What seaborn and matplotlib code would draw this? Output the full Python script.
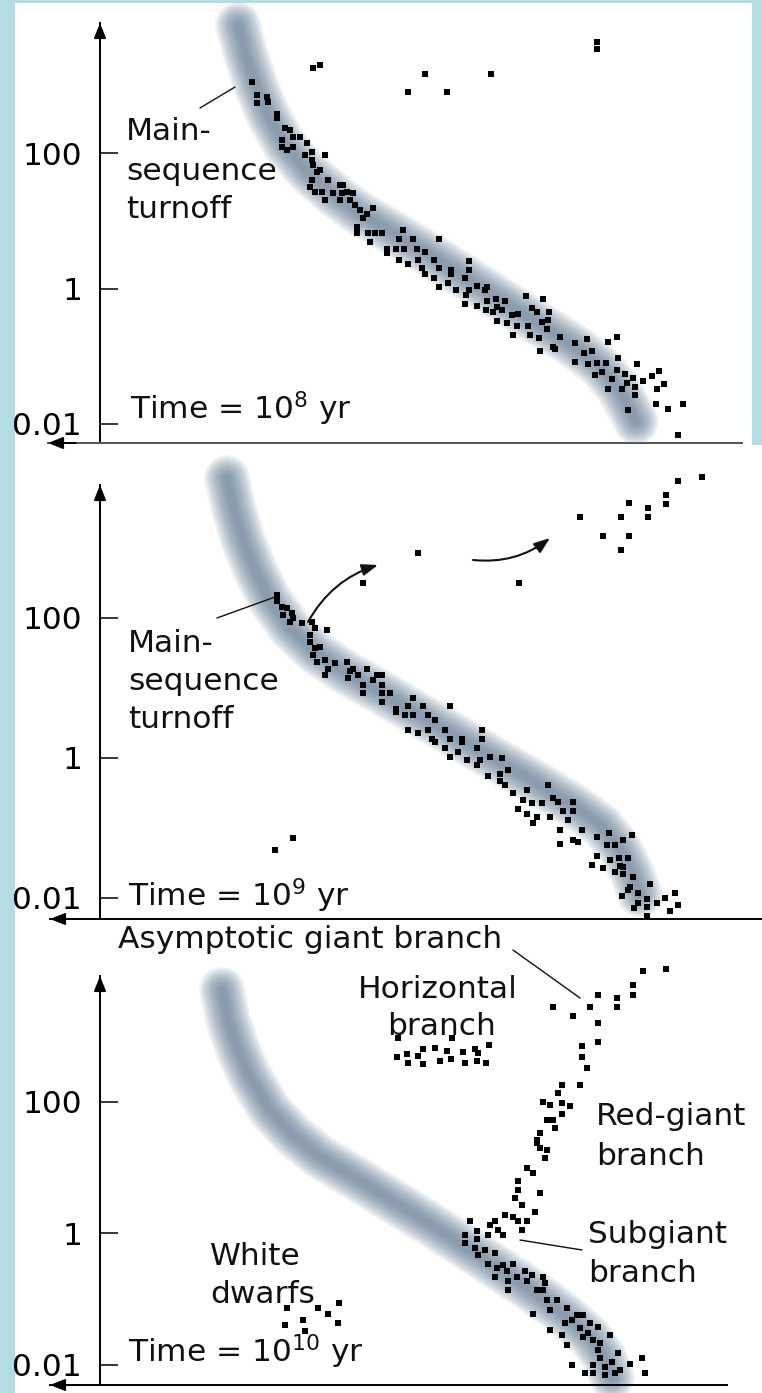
import numpy as np
import matplotlib
matplotlib.use("Agg")
import matplotlib.pyplot as plt
import seaborn as sns
import pandas as pd
from matplotlib.patches import Rectangle, FancyArrowPatch
from matplotlib.lines import Line2D
from matplotlib.ticker import NullLocator

# ---------------- data (x = relative temperature index, logL = log10 luminosity) -------------
tick_values = [0.01, 1, 100]
tick_labels = ["0.01", "1", "100"]

# Panel 1: 10^8 yr
p1_band_x = [138, 146, 156, 168, 185, 208, 235, 258, 280, 330, 380, 430, 475, 500, 518, 530, 536]
p1_band_logL = [3.90, 3.45, 3.00, 2.57, 2.12, 1.72, 1.38, 1.13, 0.94, 0.50, 0.03, -0.44, -0.86, -1.15, -1.47, -1.79, -1.97]
p1_x = [152, 157, 157, 167, 168, 177, 177, 185, 190, 193, 200, 182, 182, 187, 193, 207, 212, 205, 212, 225,
        213, 217, 220, 228, 212, 210, 215, 222, 225, 233, 240, 243, 242, 247, 240, 250, 253, 255, 260, 267,
        263, 273, 257, 257, 268, 270, 275,
        282, 287, 287, 296, 299, 303, 304, 313, 317, 299, 308, 318, 322, 325, 325, 334, 339, 334, 339, 339,
        348, 351, 351, 356, 365, 369, 369, 366, 369, 365, 377, 377, 385, 387, 387, 386, 396, 397, 393, 402,
        405, 397, 407, 412, 413, 418, 417, 426, 432, 437, 443, 449, 442, 448, 428, 430, 439, 447, 440, 453,
        455, 460, 475, 475, 484, 487, 492, 488, 497, 506, 502, 495, 508, 517, 518, 512, 508, 517, 525, 522,
        527, 533, 535, 537, 543, 535, 528, 552, 559, 557, 564, 556, 568, 583, 578,
        213, 220, 497, 497, 325, 308, 347, 391]
p1_logL = [3.06, 2.86, 2.74, 2.84, 2.76, 2.59, 2.52, 2.37, 2.34, 2.25, 2.25, 2.20, 2.10, 2.05, 2.10, 2.15, 2.02, 1.97, 1.90, 1.97,
           1.83, 1.73, 1.75, 1.60, 1.60, 1.51, 1.43, 1.43, 1.31, 1.41, 1.53, 1.53, 1.41, 1.43, 1.31, 1.31, 1.41, 1.24, 1.16, 1.11,
           1.04, 1.19, 0.91, 0.82, 0.82, 0.69, 0.82,
           0.82, 0.59, 0.52, 0.59, 0.73, 0.87, 0.59, 0.73, 0.59, 0.42, 0.36, 0.42, 0.30, 0.22, 0.54, 0.42, 0.73, 0.15, 0.30, 0.03,
           0.09, 0.28, 0.22, -0.02, 0.15, 0.41, 0.28, -0.09, -0.02, -0.23, -0.26, 0.04, -0.02, 0.02, -0.18, -0.32, -0.15, -0.27, -0.34, -0.32,
           -0.19, -0.48, -0.51, -0.39, -0.68, -0.38, -0.56, -0.11, -0.28, -0.34, -0.16, -0.34, -0.49, -0.47, -0.55, -0.69, -0.73, -0.60, -0.93, -0.86,
           -0.90, -0.72, -0.81, -1.08, -0.95, -0.74, -0.93, -1.12, -1.10, -1.10, -1.23, -1.28, -0.79, -0.71, -1.02, -1.34, -1.48, -1.21, -1.26, -1.48,
           -1.40, -1.33, -1.46, -1.12, -1.37, -1.58, -1.79, -1.30, -1.22, -1.48, -1.41, -1.71, -1.78, -1.71, -2.17,
           3.26, 3.31, 3.65, 3.54, 3.17, 2.91, 2.91, 3.17]

# Panel 2: 10^9 yr
p2_band_x = [127, 134, 143, 155, 170, 190, 215, 245, 280, 330, 380, 430, 475, 502, 520, 532, 540]
p2_band_logL = [3.99, 3.54, 3.11, 2.68, 2.25, 1.85, 1.51, 1.22, 0.94, 0.52, 0.10, -0.31, -0.70, -0.98, -1.31, -1.65, -1.96]
p2_x = [177, 177, 182, 187, 192, 183, 190, 193, 202, 212, 215, 227, 210, 210, 215, 220, 213, 217, 225, 228,
        225, 235, 247, 250, 248, 253, 258, 263, 263, 267, 273, 277,
        282, 282, 282, 282, 290, 296, 296, 305, 313, 308, 313, 323, 328, 335, 350, 308, 318, 328, 332, 335,
        345, 350, 345, 350, 358, 362, 362, 367, 377, 382, 382, 380, 377, 390, 402, 408, 400, 400, 405, 388,
        413, 418, 427, 427, 423, 432, 433, 437, 442, 448, 453, 450, 458, 460, 460, 463, 468, 473, 473, 473,
        478, 482, 497, 507, 509, 515, 523, 532,
        497, 492, 503, 510, 519, 528, 520, 523, 515, 523, 533, 530, 528, 550, 522, 538, 547, 538, 557, 565,
        575, 578, 570, 534, 547, 547,
        263, 193, 175,
        318, 419, 480, 503, 521, 521, 529, 529, 548, 548, 566, 566, 578, 602]
p2_logL = [2.32, 2.23, 2.15, 2.13, 2.06, 2.04, 1.94, 1.99, 1.92, 1.94, 1.85, 1.82, 1.75, 1.65, 1.56, 1.58, 1.46, 1.37, 1.39, 1.27,
           1.18, 1.35, 1.37, 1.23, 1.13, 1.27, 1.18, 1.04, 0.92, 1.27, 1.11, 1.18,
           1.18, 1.04, 0.92, 0.80, 0.92, 0.70, 0.65, 0.61, 0.85, 0.73, 0.61, 0.73, 0.61, 0.54, 0.73, 0.39, 0.35, 0.39, 0.27, 0.22,
           0.39, 0.27, 0.14, 0.01, 0.08, 0.27, 0.22, -0.04, 0.14, 0.39, 0.27, -0.04, -0.11, 0.01, -0.01, -0.18, -0.23, -0.34, -0.39, -0.27,
           -0.51, -0.73, -0.46, -0.80, -0.61, -0.65, -0.94, -0.85, -0.65, -0.39, -0.58, -0.85, -0.63, -1.04, -1.23, -0.77, -0.89, -0.63, -0.77, -1.18,
           -1.20, -1.04, -1.13, -1.25, -1.08, -1.25, -1.18, -1.11,
           -1.41, -1.54, -1.58, -1.46, -1.44, -1.44, -1.55, -1.56, -1.64, -1.66, -1.71, -1.85, -1.89, -1.81, -1.98, -1.94, -2.02, -2.08, -2.08, -2.01,
           -1.94, -2.11, -2.19, -2.15, -2.14, -2.26,
           2.49, -1.15, -1.32,
           2.92, 2.49, 3.43, 3.16, 3.43, 2.97, 3.63, 3.16, 3.56, 3.43, 3.75, 3.62, 3.95, 4.01]

# Panel 3: 10^10 yr
p3_band_x = [122, 128, 138, 150, 170, 193, 220, 250, 280, 330, 380, 430, 465, 490, 504, 512]
p3_band_logL = [3.70, 3.24, 2.79, 2.38, 1.87, 1.49, 1.16, 0.89, 0.61, 0.14, -0.35, -0.85, -1.24, -1.58, -1.88, -2.19]
p3_ms_x = [365, 365, 377, 375, 378, 385, 395, 388, 397, 403, 413, 395, 407, 408, 408, 417, 425, 427, 432, 443,
           445, 437, 443, 447, 450, 457, 433, 450, 467, 465, 462, 472, 477, 483, 480, 483, 490, 488, 498, 493,
           500, 498, 500, 510, 518, 512, 505, 493, 485, 472, 467, 515, 520, 530, 542, 545, 505, 493]
p3_ms_logL = [-0.03, -0.15, -0.08, -0.23, -0.33, -0.25, -0.30, -0.46, -0.53, -0.48, -0.46, -0.66, -0.58, -0.73, -0.86, -0.66, -0.58, -0.73, -0.63, -0.66,
              -0.76, -0.86, -0.86, -1.01, -1.17, -1.01, -1.22, -1.47, -1.14, -1.37, -1.55, -1.32, -1.24, -1.24, -1.44, -1.57, -1.37, -1.52, -1.42, -1.62,
              -1.67, -1.77, -1.90, -1.55, -1.82, -1.95, -2.03, -2.00, -2.13, -2.00, -1.70, -2.13, -2.08, -1.98, -1.90, -2.13, -2.15, -2.13]
p3_rgb_x = [482, 482, 487, 480, 462, 458, 443, 450, 462, 470, 462, 447, 453, 455, 440, 437, 440, 447, 445, 437,
            427, 433, 418, 418, 440, 415, 422, 435, 413, 405, 395, 390, 370, 377, 388, 398, 403, 418, 427, 422]
p3_rgb_logL = [2.84, 2.68, 2.51, 2.25, 2.25, 2.13, 1.99, 1.95, 1.98, 1.93, 1.82, 1.72, 1.72, 1.60, 1.52, 1.37, 1.29, 1.27, 1.14, 1.42,
               0.99, 0.91, 0.79, 0.66, 0.61, 0.53, 0.43, 0.33, 0.25, 0.28, 0.18, 0.13, 0.18, 0.03, -0.03, 0.05, -0.03, 0.18, 0.18, 0.05]
p3_agb_x = [543, 566, 533, 533, 517, 517, 498, 490, 498, 498, 473, 453]
p3_agb_logL = [3.98, 4.01, 3.77, 3.62, 3.57, 3.44, 3.62, 3.44, 3.19, 2.91, 3.30, 3.44]
p3_hb_x = [298, 352, 297, 307, 308, 318, 323, 323, 335, 340, 347, 351, 363, 365, 375, 378, 377, 386, 389]
p3_hb_logL = [2.97, 2.97, 2.68, 2.72, 2.59, 2.69, 2.57, 2.80, 2.82, 2.62, 2.77, 2.65, 2.75, 2.59, 2.80, 2.74, 2.62, 2.59, 2.86]
p3_wd_x = [187, 218, 228, 239, 185, 203, 238, 205]
p3_wd_logL = [-1.14, -1.14, -1.22, -1.06, -1.39, -1.32, -1.36, -1.48]

# ---------------- style ----------------
sns.set_style("white")
plt.rcParams["font.family"] = ["DejaVu Sans"]
plt.rcParams["mathtext.fontset"] = "dejavusans"
FS = 22.5
W, H = 762, 1393

fig = plt.figure(figsize=(W / 100, H / 100), dpi=100)
fig.patch.set_facecolor("#b5dce0")


def fx(px):
    return px / W


def fy(py):
    return 1 - py / H


fig.add_artist(Rectangle((fx(15), fy(445)), (752 - 15) / W, (445 - 3) / H, transform=fig.transFigure,
                         facecolor="white", edgecolor="none", zorder=-5))
fig.add_artist(Rectangle((fx(15), 0), (762 - 15) / W, (1393 - 445) / H, transform=fig.transFigure,
                         facecolor="white", edgecolor="none", zorder=-5))

# panel geometry: (left px, right px, top px, bottom px, x-data at left, logL at bottom, logL at top)
panels = [
    (48, 742, 23, 443, -52, -2.285, 3.93),
    (50, 762, 485, 919, -50, -2.307, 3.893),
    (50, 727, 976, 1385, -50, -2.305, 3.91),
]

axes = []
for (l, r, t, b, x0, ylo, yhi) in panels:
    ax = fig.add_axes([fx(l), fy(b), (r - l) / W, (b - t) / H])
    ax.set_facecolor("none")
    ax.set_yscale("log")
    ax.set_xlim(x0, x0 + (r - l))
    ax.set_ylim(10 ** ylo, 10 ** yhi)
    for s in ("top", "right"):
        ax.spines[s].set_visible(False)
    ax.spines["left"].set_position(("data", 0))
    for s in ("left", "bottom"):
        ax.spines[s].set_color("black")
        ax.spines[s].set_linewidth(1.4)
    ax.set_xticks([])
    ax.set_yticks(tick_values)
    ax.set_yticklabels(tick_labels)
    ax.yaxis.set_minor_locator(NullLocator())
    ax.tick_params(axis="y", direction="in", length=13, width=1.1, pad=13, labelsize=FS,
                   colors="black", left=True)
    ax.annotate("", xy=(0, 1), xycoords=ax.get_xaxis_transform(), xytext=(0, 0.95),
                textcoords=ax.get_xaxis_transform(),
                arrowprops=dict(arrowstyle="-|>,head_length=0.45,head_width=0.18", color="black",
                                lw=1.4, mutation_scale=20, shrinkA=0, shrinkB=0))
    ax.annotate("", xy=(0, 0), xycoords="axes fraction", xytext=(0.04, 0), textcoords="axes fraction",
                arrowprops=dict(arrowstyle="-|>,head_length=0.45,head_width=0.18", color="black",
                                lw=1.4, mutation_scale=20, shrinkA=0, shrinkB=0))
    axes.append(ax)

axes[0].spines["bottom"].set_color("#555555")


def draw_band(ax, bx, bl):
    df = pd.DataFrame({"x": bx, "L": 10 ** np.array(bl)})
    widths = np.linspace(46, 6, 16)
    for w in widths:
        sns.lineplot(data=df, x="x", y="L", ax=ax, sort=False, estimator=None, color="#56728c",
                     linewidth=w * 0.72, alpha=0.066, solid_capstyle="round", solid_joinstyle="round",
                     clip_on=False, zorder=2, legend=False)


def draw_stars(ax, xs, ls, size):
    df = pd.DataFrame({"x": xs, "L": 10 ** np.array(ls)})
    sns.scatterplot(data=df, x="x", y="L", ax=ax, marker="s", s=size, color="black",
                    linewidth=0, clip_on=False, zorder=5, legend=False)


draw_band(axes[0], p1_band_x, p1_band_logL)
draw_stars(axes[0], p1_x, p1_logL, 13)
draw_band(axes[1], p2_band_x, p2_band_logL)
draw_stars(axes[1], p2_x, p2_logL, 13)
draw_band(axes[2], p3_band_x, p3_band_logL)
for xs, ls in [(p3_ms_x, p3_ms_logL), (p3_rgb_x, p3_rgb_logL), (p3_agb_x, p3_agb_logL),
               (p3_hb_x, p3_hb_logL), (p3_wd_x, p3_wd_logL)]:
    draw_stars(axes[2], xs, ls, 13)

for ax in axes:
    ax.set_xlabel("")
    ax.set_ylabel("")


# ---------------- labels ----------------
def label(px, py, s):
    fig.text(fx(px), fy(py), s, ha="left", va="baseline", fontsize=FS, color="#111111")


def pointer(p0, p1):
    fig.add_artist(Line2D([fx(p0[0]), fx(p1[0])], [fy(p0[1]), fy(p1[1])], transform=fig.transFigure,
                          color="#111111", lw=1.0))


def curved_arrow(p0, p1, rad):
    fig.add_artist(FancyArrowPatch((fx(p0[0]), fy(p0[1])), (fx(p1[0]), fy(p1[1])),
                                   transform=fig.transFigure, connectionstyle=f"arc3,rad={rad}",
                                   arrowstyle="-|>,head_length=0.6,head_width=0.22", mutation_scale=16,
                                   color="#111111", lw=1.5, shrinkA=0, shrinkB=0))


# panel 1
label(126, 140, "Main-")
label(126, 180, "sequence")
label(126, 218, "turnoff")
label(130, 419, r"Time = 10$^{8}$ yr")
pointer((200, 108), (235, 87))

# panel 2
label(128, 652, "Main-")
label(128, 690, "sequence")
label(128, 728, "turnoff")
label(128, 906, r"Time = 10$^{9}$ yr")
pointer((217, 618), (275, 597))
curved_arrow((308, 622), (378, 565), -0.2)
curved_arrow((473, 560), (550, 538), 0.2)

# panel 3
label(118, 948, "Asymptotic giant branch")
label(358, 998, "Horizontal")
label(387, 1035, "branch")
label(596, 1125, "Red-giant")
label(596, 1165, "branch")
label(588, 1243, "Subgiant")
label(588, 1282, "branch")
label(210, 1265, "White")
label(210, 1303, "dwarfs")
label(128, 1362, r"Time = 10$^{10}$ yr")
pointer((513, 950), (580, 998))
pointer((520, 1240), (582, 1250))

fig.savefig("out.png", dpi=100)
